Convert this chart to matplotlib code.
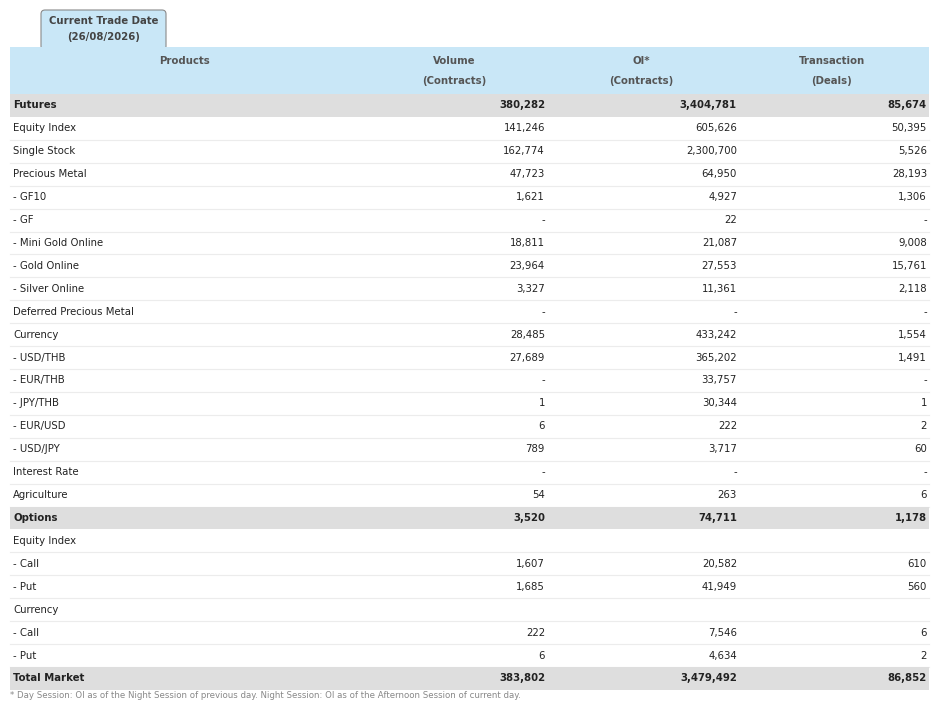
import matplotlib
matplotlib.use("Agg")
import matplotlib.pyplot as plt
from matplotlib.patches import Rectangle, FancyBboxPatch

products = ["Futures", "Equity Index", "Single Stock", "Precious Metal", "- GF10", "- GF",
            "- Mini Gold Online", "- Gold Online", "- Silver Online", "Deferred Precious Metal",
            "Currency", "- USD/THB", "- EUR/THB", "- JPY/THB", "- EUR/USD", "- USD/JPY",
            "Interest Rate", "Agriculture", "Options", "Equity Index", "- Call", "- Put",
            "Currency", "- Call", "- Put", "Total Market"]
volume = ["380,282", "141,246", "162,774", "47,723", "1,621", "-", "18,811", "23,964", "3,327", "-",
          "28,485", "27,689", "-", "1", "6", "789", "-", "54", "3,520", "", "1,607", "1,685",
          "", "222", "6", "383,802"]
oi = ["3,404,781", "605,626", "2,300,700", "64,950", "4,927", "22", "21,087", "27,553", "11,361", "-",
      "433,242", "365,202", "33,757", "30,344", "222", "3,717", "-", "263", "74,711", "", "20,582",
      "41,949", "", "7,546", "4,634", "3,479,492"]
transaction = ["85,674", "50,395", "5,526", "28,193", "1,306", "-", "9,008", "15,761", "2,118", "-",
               "1,554", "1,491", "-", "1", "2", "60", "-", "6", "1,178", "", "610", "560",
               "", "6", "2", "86,852"]
bold_rows = {"Futures", "Options", "Total Market"}
headers = [("Products", ""), ("Volume", "(Contracts)"), ("OI*", "(Contracts)"), ("Transaction", "(Deals)")]

fig = plt.figure(figsize=(9.39, 7.08), dpi=100)
ax = fig.add_axes([0, 0, 1, 1])
ax.set_xlim(0, 939); ax.set_ylim(708, 0); ax.axis("off")

fs = 7.3
tc = "#222222"
# tab
ax.add_patch(FancyBboxPatch((41, 10), 125, 40, boxstyle="round,pad=0,rounding_size=4",
                            fc="#c9e7f7", ec="#8a8a8a", lw=0.8, zorder=1))
ax.text(103.5, 21, "Current Trade Date", ha="center", va="center", fontsize=fs, weight="bold", color="#444")
ax.text(103.5, 37, "(26/08/2026)", ha="center", va="center", fontsize=fs, weight="bold", color="#444")
# header band
ax.add_patch(Rectangle((10, 47), 919, 47, fc="#c9e7f7", ec="none", zorder=2))
hx = [185, 454, 641, 832]
for x, (a, b) in zip(hx, headers):
    ax.text(x, 61, a, ha="center", va="center", fontsize=fs, weight="bold", color="#555", zorder=3)
    if b:
        ax.text(x, 81, b, ha="center", va="center", fontsize=fs, weight="bold", color="#555", zorder=3)

rh = 22.92
top = 94
for i, p in enumerate(products):
    y0 = top + i * rh
    yc = y0 + rh / 2
    b = p in bold_rows
    if b:
        ax.add_patch(Rectangle((10, y0), 919, rh, fc="#dedede", ec="none", zorder=1))
    else:
        ax.plot([10, 929], [y0 + rh, y0 + rh], color="#ececec", lw=0.8, zorder=1)
    w = "bold" if b else "normal"
    ax.text(13, yc, p, ha="left", va="center", fontsize=fs, weight=w, color=tc)
    ax.text(545, yc, volume[i], ha="right", va="center", fontsize=fs, weight=w, color=tc)
    ax.text(737, yc, oi[i], ha="right", va="center", fontsize=fs, weight=w, color=tc)
    ax.text(927, yc, transaction[i], ha="right", va="center", fontsize=fs, weight=w, color=tc)

ax.text(10, 695, "* Day Session: OI as of the Night Session of previous day. Night Session: OI as of the Afternoon Session of current day.",
        ha="left", va="center", fontsize=6.2, color="#888888")
fig.savefig("out.png", dpi=100)
